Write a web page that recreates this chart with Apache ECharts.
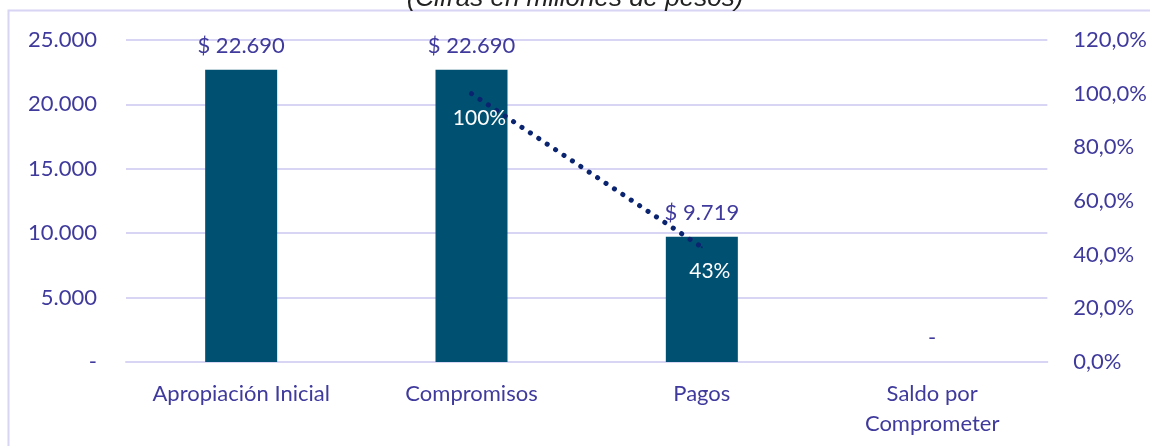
<!DOCTYPE html>
<html>
<head>
<meta charset="utf-8">
<script src="https://cdn.jsdelivr.net/npm/echarts@6/dist/echarts.min.js"></script>
<style>
  html, body { margin: 0; padding: 0; background: #fff; }
  #main { width: 1150px; height: 446px; }
</style>
</head>
<body>
<div id="main"></div>
<script>
  // datos del grafico
  const categories = ['Apropiación Inicial', 'Compromisos', 'Pagos', 'Saldo por\nComprometer']
  const montos = [22690, 22690, 9719, 0]
  const porcentajes = [null, 100, 42.8, null]
  const porcentajeLabels = ['', '100%', '43%', '']

  const textColor = '#3F3A9C'
  const gridColor = '#D8D4F3'
  const font = 'Lato'

  const myChart = echarts.init(document.getElementById('main'))

  const option = {
    animation: false,
    textStyle: { fontFamily: font },
    title: {
      text: '(Cifras en millones de pesos)',
      left: 'center',
      top: -19,
      textStyle: { fontFamily: 'Liberation Sans', fontStyle: 'italic', fontWeight: 'normal', fontSize: 26, color: '#222' }
    },
    graphic: [{
      type: 'rect',
      shape: { x: 8.5, y: 10.5, width: 1160, height: 460 },
      style: { fill: 'none', stroke: gridColor, lineWidth: 2 },
      silent: true,
      z: -1
    }],
    grid: { left: 126, right: 98, top: 40, bottom: 84 },
    xAxis: {
      type: 'category',
      data: categories,
      axisLine: { lineStyle: { color: gridColor, width: 2 } },
      axisTick: { show: false },
      axisLabel: { color: textColor, fontSize: 22, margin: 17, lineHeight: 30, interval: 0 }
    },
    yAxis: [{
      type: 'value',
      min: 0, max: 25000, interval: 5000,
      axisLine: { show: false },
      axisTick: { show: false },
      splitLine: { lineStyle: { color: gridColor, width: 2 } },
      axisLabel: {
        color: textColor, fontSize: 22, margin: 29,
        formatter: v => v === 0 ? '-' : v.toLocaleString('de-DE')
      }
    }, {
      type: 'value',
      min: 0, max: 120, interval: 20,
      axisLine: { show: false },
      axisTick: { show: false },
      splitLine: { show: false },
      axisLabel: {
        color: textColor, fontSize: 22, margin: 26,
        formatter: v => v.toFixed(1).replace('.', ',') + '%'
      }
    }],
    series: [{
      name: 'Montos',
      type: 'bar',
      data: montos,
      barWidth: 72,
      itemStyle: { color: '#005072' },
      label: {
        show: true, position: 'top', distance: 13,
        color: textColor, fontSize: 22,
        formatter: p => p.value === 0 ? '-' : '$ ' + p.value.toLocaleString('de-DE')
      }
    }, {
      name: 'Porcentaje',
      type: 'line',
      yAxisIndex: 1,
      data: porcentajes,
      symbol: 'circle',
      symbolSize: 2,
      showSymbol: true,
      itemStyle: { color: '#0B2470' },
      lineStyle: { color: '#0B2470', width: 5, type: [0.1, 10], cap: 'round' },
      label: {
        show: true, position: 'bottom', distance: 5, offset: [8, 8],
        color: '#fff', fontSize: 21,
        formatter: p => porcentajeLabels[p.dataIndex]
      },
      z: 5
    }]
  }

  myChart.setOption(option)
</script>
</body>
</html>
